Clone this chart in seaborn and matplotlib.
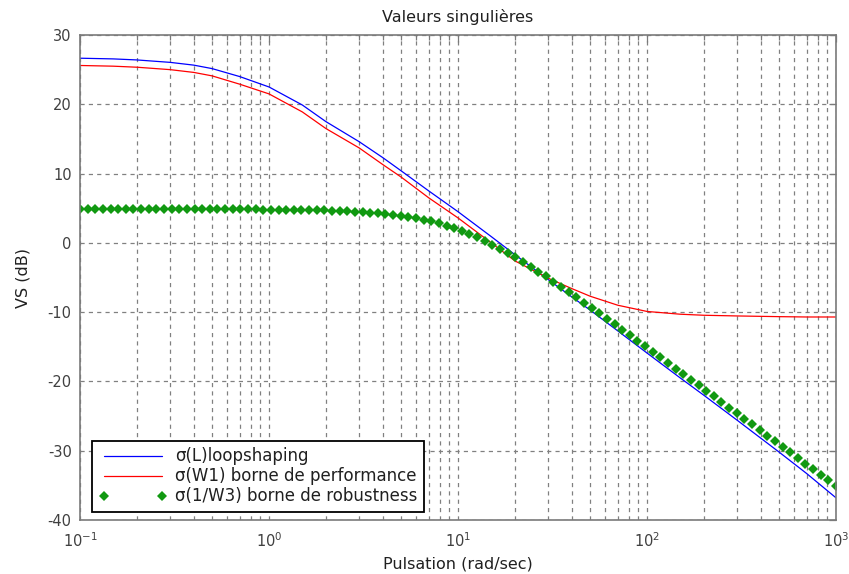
import numpy as np
import pandas as pd
import matplotlib
matplotlib.use("Agg")
import matplotlib.pyplot as plt
import seaborn as sns
from matplotlib.ticker import LogLocator, NullFormatter, FixedLocator

# ---------------- data ----------------
line_freq = [0.1, 0.15, 0.2, 0.3, 0.4, 0.5, 0.7, 1, 1.5, 2, 3, 4, 5, 7, 10,
             15, 20, 30, 40, 50, 70, 100, 150, 200, 300, 500, 700, 1000]
loop_db = [26.65, 26.55, 26.4, 26.05, 25.65, 25.15, 24.0, 22.5, 19.9, 17.5,
           14.6, 12.3, 10.4, 7.5, 4.5, 0.9, -1.7, -5.3, -7.8, -9.7, -12.7,
           -15.9, -19.5, -22.0, -25.6, -30.2, -33.3, -36.8]
perf_db = [25.6, 25.5, 25.35, 25.0, 24.6, 24.1, 22.9, 21.5, 18.9, 16.5,
           13.7, 11.3, 9.5, 6.5, 3.6, 0.0, -2.6, -5.1, -6.6, -7.7, -9.0,
           -9.9, -10.3, -10.45, -10.55, -10.65, -10.7, -10.7]
robust_db = [4.85] * 13 + [4.84] * 7 + [
    4.83, 4.83, 4.82, 4.82, 4.81, 4.80, 4.79, 4.78, 4.77, 4.75,
    4.73, 4.71, 4.68, 4.65, 4.61, 4.56, 4.50, 4.44, 4.36, 4.27,
    4.17, 4.05, 3.92, 3.76, 3.57, 3.36, 3.11, 2.82, 2.50, 2.13,
    1.72, 1.27, 0.79, 0.28, -0.27, -0.85, -1.46, -2.10, -2.77, -3.44,
    -4.14, -4.85, -5.59, -6.33, -7.08, -7.84, -8.61, -9.39, -10.17, -10.96,
    -11.74, -12.54, -13.34, -14.13, -14.93, -15.73, -16.53, -17.34, -18.14, -18.95,
    -19.75, -20.55, -21.36, -22.17, -22.98, -23.79, -24.60, -25.40, -26.21, -27.02,
    -27.83, -28.64, -29.44, -30.25, -31.06, -31.87, -32.68, -33.48, -34.29, -35.10]
robust_freq = np.logspace(-1, 3, len(robust_db))

labels = ["σ(L)loopshaping", "σ(W1) borne de performance",
          "σ(1/W3) borne de robustness"]
title = "Valeurs singulières"
xlabel = "Pulsation (rad/sec)"
ylabel = "VS (dB)"
yticks = [-40, -30, -20, -10, 0, 10, 20, 30]

# ---------------- style ----------------
sns.set_theme(style="white")
plt.rcParams["font.family"] = ["DejaVu Sans"]
plt.rcParams["lines.scale_dashes"] = False
plt.rcParams["axes.unicode_minus"] = False

df_lines = pd.DataFrame({"freq": line_freq * 2,
                         "db": loop_db + perf_db,
                         "series": [labels[0]] * len(line_freq) + [labels[1]] * len(line_freq)})
df_rob = pd.DataFrame({"freq": robust_freq, "db": robust_db})

fig = plt.figure(figsize=(8.49, 5.74), dpi=100)
ax = fig.add_axes([80 / 849, 1 - 520 / 574, 756 / 849, 485 / 574])
ax.set_xscale("log")

grid_col = "#808080"
ax.set_axisbelow(True)

sns.lineplot(data=df_lines, x="freq", y="db", hue="series",
             palette={labels[0]: "#0000ff", labels[1]: "#ff0000"},
             linewidth=0.9, ax=ax, sort=False, estimator=None)
sns.lineplot(data=df_rob, x="freq", y="db", color="#119911",
             marker="D", markersize=4.6, markeredgewidth=0, linestyle="",
             label=labels[2], ax=ax, sort=False, estimator=None)

ax.set_xlim(0.1, 1000)
ax.set_ylim(-40, 30)
ax.set_yticks(yticks)
ax.xaxis.set_major_locator(FixedLocator([0.1, 1, 10, 100, 1000]))
ax.xaxis.set_minor_locator(LogLocator(base=10, subs=np.arange(2, 10), numticks=20))
ax.xaxis.set_minor_formatter(NullFormatter())

ax.grid(True, which="major", axis="both", color=grid_col, linestyle=(0, (3, 3)), linewidth=0.9)
ax.grid(True, which="minor", axis="x", color=grid_col, linestyle=(0, (3, 3)), linewidth=0.9)

for s in ax.spines.values():
    s.set_color("#7a7a7a")
    s.set_linewidth(1.2)
ax.tick_params(axis="both", which="both", direction="in", top=True, right=True,
               colors="#7a7a7a", labelcolor="#404040")
ax.tick_params(axis="both", which="major", length=5, width=0.9, labelsize=10.5)
ax.tick_params(axis="x", which="major", pad=8)
ax.tick_params(axis="y", which="major", pad=6)
ax.tick_params(axis="x", which="minor", length=3.5, width=0.9)

ax.set_title(title, fontsize=11.5, color="#202020", pad=9.5)
ax.set_xlabel(xlabel, fontsize=11.5, color="#202020", labelpad=5)
ax.set_ylabel(ylabel, fontsize=11.5, color="#202020", labelpad=12)

leg = ax.legend(loc="lower left", bbox_to_anchor=(12 / 756, 8 / 485), borderaxespad=0,
                fontsize=12, numpoints=2, handlelength=4.1, handletextpad=0.5,
                labelspacing=0.12, borderpad=0.4, fancybox=False, framealpha=1)
leg.get_frame().set_edgecolor("black")
leg.get_frame().set_linewidth(1.3)
for t in leg.get_texts():
    t.set_color("#202020")

fig.savefig("out.png", dpi=100)
